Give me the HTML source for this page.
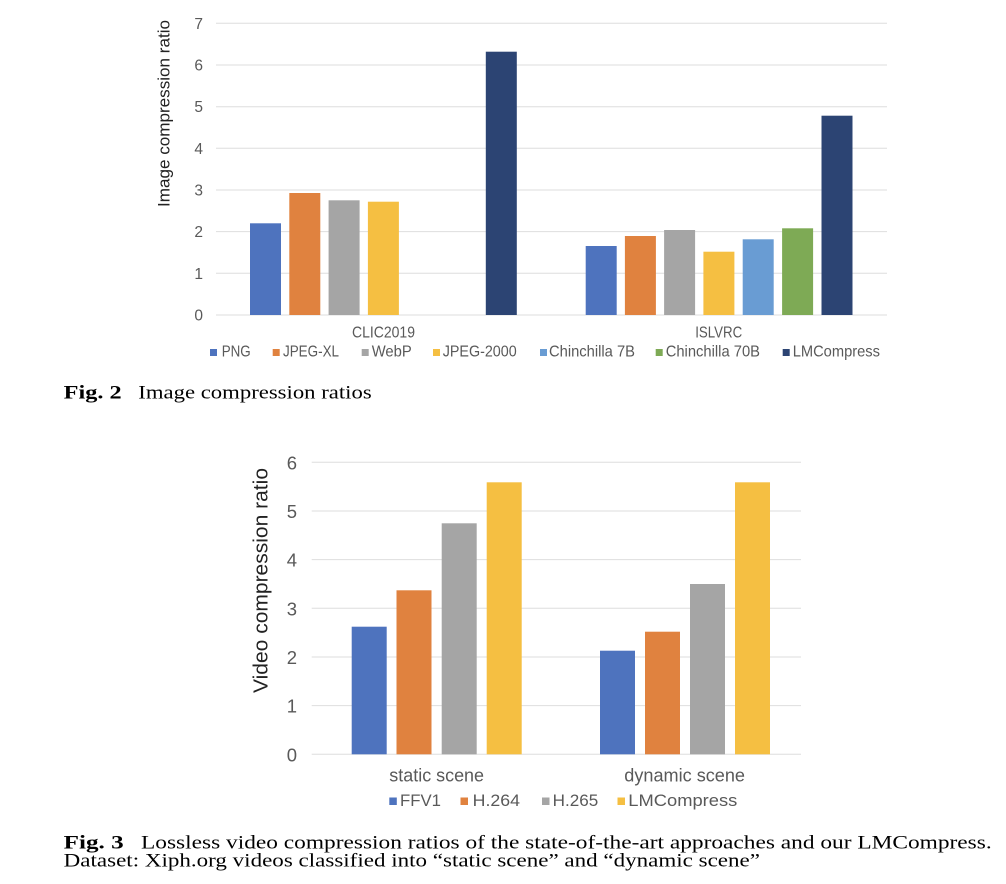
<!DOCTYPE html>
<html>
<head>
<meta charset="utf-8">
<style>
  html, body { margin: 0; padding: 0; background: #ffffff; }
  body { width: 1006px; height: 884px; overflow: hidden; }
  svg { display: block; }
  .sans { font-family: "Liberation Sans", "Noto Sans CJK SC", sans-serif; }
  .serif { font-family: "Liberation Serif", "DejaVu Serif", serif; }
</style>
</head>
<body>
<svg width="1006" height="884" viewBox="0 0 1006 884" xmlns="http://www.w3.org/2000/svg">
  <rect x="0" y="0" width="1006" height="884" fill="#ffffff"/>

  <!-- ============ FIG 2 : Image compression ratios ============ -->
  <g stroke="#DEDEDE" stroke-width="1">
    <line x1="216" y1="315" x2="887" y2="315"/>
    <line x1="216" y1="273.3" x2="887" y2="273.3"/>
    <line x1="216" y1="231.6" x2="887" y2="231.6"/>
    <line x1="216" y1="190" x2="887" y2="190"/>
    <line x1="216" y1="148.3" x2="887" y2="148.3"/>
    <line x1="216" y1="106.7" x2="887" y2="106.7"/>
    <line x1="216" y1="65" x2="887" y2="65"/>
    <line x1="216" y1="23.3" x2="887" y2="23.3"/>
  </g>

  <g class="sans" font-size="15.5" fill="#595959" text-anchor="end">
    <text x="203" y="320.5">0</text>
    <text x="203" y="278.8">1</text>
    <text x="203" y="237.1">2</text>
    <text x="203" y="195.5">3</text>
    <text x="203" y="153.8">4</text>
    <text x="203" y="112.2">5</text>
    <text x="203" y="70.5">6</text>
    <text x="203" y="28.8">7</text>
  </g>

  <text class="sans" font-size="17" fill="#222222" text-anchor="middle" transform="translate(169.5,113.5) rotate(-90)" textLength="187" lengthAdjust="spacingAndGlyphs">Image compression ratio</text>

  <!-- CLIC2019 bars -->
  <rect x="250" y="223.3" width="31" height="91.7" fill="#4E73BE"/>
  <rect x="289.3" y="193" width="31" height="122" fill="#E0823F"/>
  <rect x="328.6" y="200.3" width="31" height="114.7" fill="#A5A5A5"/>
  <rect x="367.9" y="201.7" width="31" height="113.3" fill="#F5BF42"/>
  <rect x="485.8" y="51.7" width="31" height="263.3" fill="#2C4473"/>

  <!-- ISLVRC bars -->
  <rect x="585.7" y="246" width="31" height="69" fill="#4E73BE"/>
  <rect x="624.9" y="236" width="31" height="79" fill="#E0823F"/>
  <rect x="664.1" y="230" width="31" height="85" fill="#A5A5A5"/>
  <rect x="703.4" y="251.7" width="31" height="63.3" fill="#F5BF42"/>
  <rect x="742.7" y="239.3" width="31" height="75.7" fill="#699CD3"/>
  <rect x="782.1" y="228.3" width="31" height="86.7" fill="#7EAA55"/>
  <rect x="821.5" y="115.7" width="31" height="199.3" fill="#2C4473"/>

  <g class="sans" font-size="15.5" fill="#595959" text-anchor="middle">
    <text x="383.5" y="337.3" textLength="63" lengthAdjust="spacingAndGlyphs">CLIC2019</text>
    <text x="718.7" y="337.3" textLength="47" lengthAdjust="spacingAndGlyphs">ISLVRC</text>
  </g>

  <!-- legend top -->
  <rect x="210" y="349" width="7" height="7" fill="#4E73BE"/>
  <rect x="272.7" y="349" width="7" height="7" fill="#E0823F"/>
  <rect x="361.7" y="349" width="7" height="7" fill="#A5A5A5"/>
  <rect x="433" y="349" width="7" height="7" fill="#F5BF42"/>
  <rect x="540" y="349" width="7" height="7" fill="#699CD3"/>
  <rect x="655.7" y="349" width="7" height="7" fill="#7EAA55"/>
  <rect x="782.7" y="349" width="7" height="7" fill="#2C4473"/>
  <g class="sans" font-size="16" fill="#595959">
    <text x="221.7" y="356.7" textLength="29" lengthAdjust="spacingAndGlyphs">PNG</text>
    <text x="283" y="356.7" textLength="56" lengthAdjust="spacingAndGlyphs">JPEG-XL</text>
    <text x="371.7" y="356.7" textLength="40" lengthAdjust="spacingAndGlyphs">WebP</text>
    <text x="442.7" y="356.7" textLength="74" lengthAdjust="spacingAndGlyphs">JPEG-2000</text>
    <text x="549" y="356.7" textLength="86" lengthAdjust="spacingAndGlyphs">Chinchilla 7B</text>
    <text x="665.7" y="356.7" textLength="94.3" lengthAdjust="spacingAndGlyphs">Chinchilla 70B</text>
    <text x="792.7" y="356.7" textLength="87.3" lengthAdjust="spacingAndGlyphs">LMCompress</text>
  </g>

  <!-- caption fig 2 -->
  <g class="serif" font-size="18.5" fill="#000000">
    <text x="63.7" y="398.3" font-weight="bold" textLength="58" lengthAdjust="spacingAndGlyphs">Fig. 2</text>
    <text x="138.3" y="398.3" textLength="233.4" lengthAdjust="spacingAndGlyphs">Image compression ratios</text>
  </g>

  <!-- ============ FIG 3 : Video compression ratios ============ -->
  <g stroke="#DEDEDE" stroke-width="1">
    <line x1="311.7" y1="754.3" x2="801" y2="754.3"/>
    <line x1="311.7" y1="705.6" x2="801" y2="705.6"/>
    <line x1="311.7" y1="657" x2="801" y2="657"/>
    <line x1="311.7" y1="608.3" x2="801" y2="608.3"/>
    <line x1="311.7" y1="559.6" x2="801" y2="559.6"/>
    <line x1="311.7" y1="511" x2="801" y2="511"/>
    <line x1="311.7" y1="462.3" x2="801" y2="462.3"/>
  </g>

  <g class="sans" font-size="18.5" fill="#595959" text-anchor="end">
    <text x="297" y="761.3">0</text>
    <text x="297" y="712.6">1</text>
    <text x="297" y="664">2</text>
    <text x="297" y="615.3">3</text>
    <text x="297" y="566.6">4</text>
    <text x="297" y="518">5</text>
    <text x="297" y="469.3">6</text>
  </g>

  <text class="sans" font-size="20.5" fill="#222222" text-anchor="middle" transform="translate(267.5,580.5) rotate(-90)" textLength="225" lengthAdjust="spacingAndGlyphs">Video compression ratio</text>

  <!-- static scene -->
  <rect x="351.7" y="626.7" width="35" height="127.6" fill="#4E73BE"/>
  <rect x="396.5" y="590.3" width="35" height="164" fill="#E0823F"/>
  <rect x="441.7" y="523.3" width="35" height="231" fill="#A5A5A5"/>
  <rect x="486.7" y="482.3" width="35" height="272" fill="#F5BF42"/>

  <!-- dynamic scene -->
  <rect x="600" y="650.7" width="35" height="103.6" fill="#4E73BE"/>
  <rect x="645" y="631.7" width="35" height="122.6" fill="#E0823F"/>
  <rect x="690" y="584" width="35" height="170.3" fill="#A5A5A5"/>
  <rect x="735" y="482.3" width="35" height="272" fill="#F5BF42"/>

  <g class="sans" font-size="18" fill="#595959">
    <text x="389.3" y="781.7" textLength="94.7" lengthAdjust="spacingAndGlyphs">static scene</text>
    <text x="624.3" y="781.7" textLength="120.7" lengthAdjust="spacingAndGlyphs">dynamic scene</text>
  </g>

  <!-- legend bottom -->
  <rect x="389.3" y="797.5" width="7.5" height="7.5" fill="#4E73BE"/>
  <rect x="460.5" y="797.5" width="7.5" height="7.5" fill="#E0823F"/>
  <rect x="542" y="797.5" width="7.5" height="7.5" fill="#A5A5A5"/>
  <rect x="617.5" y="797.5" width="7.5" height="7.5" fill="#F5BF42"/>
  <g class="sans" font-size="16.5" fill="#595959">
    <text x="400" y="806" textLength="41" lengthAdjust="spacingAndGlyphs">FFV1</text>
    <text x="472.7" y="806" textLength="47.3" lengthAdjust="spacingAndGlyphs">H.264</text>
    <text x="552.7" y="806" textLength="45.6" lengthAdjust="spacingAndGlyphs">H.265</text>
    <text x="628.3" y="806" textLength="109" lengthAdjust="spacingAndGlyphs">LMCompress</text>
  </g>

  <!-- caption fig 3 -->
  <g class="serif" font-size="18.5" fill="#000000">
    <text x="63.7" y="848.3" font-weight="bold" textLength="60" lengthAdjust="spacingAndGlyphs">Fig. 3</text>
    <text x="141" y="848.3" textLength="850.7" lengthAdjust="spacingAndGlyphs">Lossless video compression ratios of the state-of-the-art approaches and our LMCompress.</text>
    <text x="63.7" y="866.5" textLength="696.3" lengthAdjust="spacingAndGlyphs">Dataset: Xiph.org videos classified into “static scene” and “dynamic scene”</text>
  </g>
</svg>
</body>
</html>
